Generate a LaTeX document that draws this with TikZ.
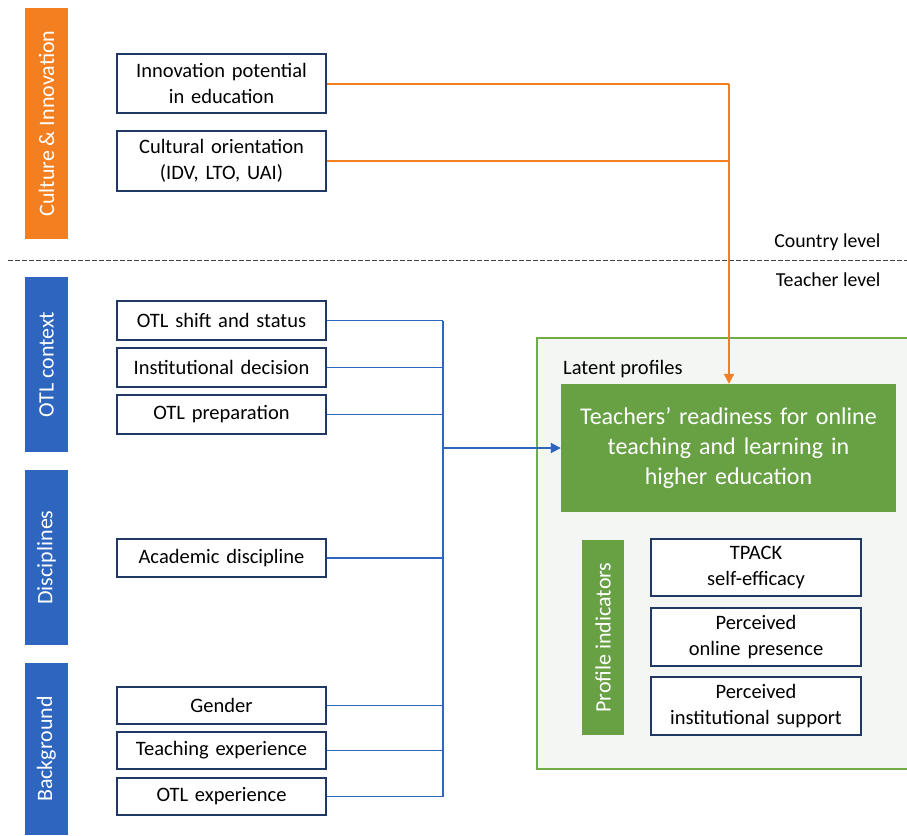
\documentclass[tikz,border=0pt]{standalone}
\usepackage{fontspec}
\setmainfont{Carlito}
\usetikzlibrary{arrows.meta}
\definecolor{corange}{HTML}{F47F20}
\definecolor{cblue}{HTML}{2E65BF}
\definecolor{cgreen}{HTML}{68A044}
\definecolor{cgreenl}{HTML}{F3F6F3}
\definecolor{cgreenb}{HTML}{70AD47}
\definecolor{cnavy}{HTML}{1F3864}
\tikzset{
  fs/.style={font=\fontsize{20.5}{25.5}\selectfont},
  varbox/.style={draw=cnavy, line width=2pt, fill=white, fs, align=center, inner sep=0pt, text width=209pt-4pt, minimum width=209pt},
  bar/.style={fill=#1, draw=none, inner sep=0pt, text=white, font=\fontsize{22}{26}\selectfont, rotate=90},
  oline/.style={draw=corange, line width=2pt},
  bline/.style={draw=cblue, line width=1.8pt},
}
\begin{document}
\begin{tikzpicture}[x=1pt,y=-1pt]
\useasboundingbox (0,0) rectangle (907,835);
% bars
\node[bar=corange, minimum width=231pt, minimum height=43pt] (b1) at (46.5,123.5) {Culture \& Innovation};
\node[bar=cblue, minimum width=175pt, minimum height=43pt] (b2) at (46.5,364.5) {OTL context};
\node[bar=cblue, minimum width=175pt, minimum height=43pt] (b3) at (46.5,557.5) {Disciplines};
\node[bar=cblue, minimum width=172pt, minimum height=43pt] (b4) at (46.5,749) {Background};
% level line
\draw[dashed, line width=1pt, dash pattern=on 5pt off 2pt, black!75] (8,260) -- (907,260);
\node[font=\fontsize{19.8}{24}\selectfont, anchor=east] (cl) at (884,242) {Country level};
\node[font=\fontsize{19.8}{24}\selectfont, anchor=east] (tl) at (884,280) {Teacher level};
% country boxes
\node[varbox, minimum height=59pt] (ip) at (221.5,83.5) {Innovation potential\\in education};
\node[varbox, minimum height=60pt] (co) at (221.5,161) {Cultural orientation\\(IDV, LTO, UAI)};
% teacher boxes
\node[varbox, minimum height=39pt] (v1) at (221.5,320.5) {OTL shift and status};
\node[varbox, minimum height=39pt] (v2) at (221.5,367.5) {Institutional decision};
\node[varbox, minimum height=39pt] (v3) at (221.5,414.5) {OTL preparation};
\node[varbox, minimum height=38pt] (v4) at (221.5,558) {Academic discipline};
\node[varbox, minimum height=37pt] (v5) at (221.5,705.5) {Gender};
\node[varbox, minimum height=37pt] (v6) at (221.5,750.5) {Teaching experience};
\node[varbox, minimum height=37pt] (v7) at (221.5,796.5) {OTL experience};
% latent profiles
\node[draw=cgreenb, fill=cgreenl, line width=1.5pt, minimum width=372pt, minimum height=431pt, inner sep=0pt] (lp) at (723,553.5) {};
\node[fs, anchor=west, inner sep=0pt] (lpt) at (563,369) {Latent profiles};
\node[fill=cgreen, draw=none, minimum width=335pt, minimum height=128pt, text width=330pt, align=center, text=white, font=\fontsize{24}{30}\selectfont, inner sep=0pt] (ready) at (728.5,448) {Teachers’ readiness for online\\teaching and learning in\\higher education};
\node[bar=cgreen, minimum width=195pt, minimum height=42pt] (pi) at (603,637.5) {Profile indicators};
\node[varbox, text width=206pt, minimum width=210pt, minimum height=57pt] (i1) at (756,567.5) {TPACK\\self-efficacy};
\node[varbox, text width=206pt, minimum width=210pt, minimum height=58pt] (i2) at (756,637) {Perceived\\online presence};
\node[varbox, text width=206pt, minimum width=210pt, minimum height=58pt] (i3) at (756,706) {Perceived\\institutional support};
% orange connectors
\coordinate (oc) at (729,83.5);
\draw[oline] (ip.east) -- (oc);
\draw[oline] (co.east) -- (co.east -| oc);
\draw[oline, -{Triangle[length=10pt,width=10pt]}] (oc) -- (oc |- ready.north);
% blue connectors
\coordinate (bus) at (443,448);
\foreach \v in {v1,v2,v3,v4,v5,v6,v7} {\draw[bline] (\v.east) -- (\v.east -| bus);}
\draw[bline] (v1.east -| bus) -- (v7.east -| bus);
\draw[bline, -{Triangle[length=10pt,width=10pt]}] (bus) -- (ready.west);
\end{tikzpicture}
\end{document}
